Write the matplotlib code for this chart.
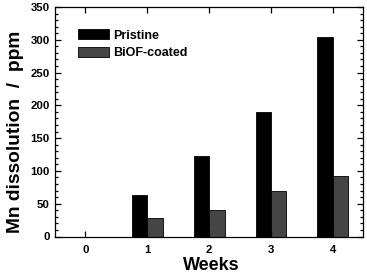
import matplotlib.pyplot as plt
import numpy as np
from matplotlib.ticker import MultipleLocator

# --- data ---
weeks = [0, 1, 2, 3, 4]
pristine = [0, 64, 123, 190, 305]
coated = [0, 28, 40, 70, 92]

plt.rcParams['font.family'] = ['Liberation Sans', 'DejaVu Sans']
plt.rcParams['font.weight'] = 'bold'

fig = plt.figure(figsize=(3.67, 2.74), dpi=100)
ax = fig.add_axes([54.5 / 367, 1 - 236.5 / 274, 308 / 367, 229.5 / 274])

x = np.array(weeks)
w = 0.25
ax.bar(x - w / 2, pristine, w, color='black', edgecolor='black', linewidth=0.6, label='Pristine')
ax.bar(x + w / 2, coated, w, color='#454545', edgecolor='black', linewidth=0.6, label='BiOF-coated')

ax.set_xlim(-0.5, 4.48)
ax.set_ylim(0, 350)
ax.set_xticks(weeks)
ax.yaxis.set_major_locator(MultipleLocator(50))
ax.yaxis.set_minor_locator(MultipleLocator(10))
ax.tick_params(which='both', direction='in', top=True, right=True, labelsize=8.2, width=0.9)
ax.tick_params(which='major', length=4)
ax.tick_params(which='minor', length=2.2)
ax.tick_params(axis='x', which='major', pad=6)
ax.tick_params(axis='x', which='minor', bottom=False, top=False)
for s in ax.spines.values():
    s.set_linewidth(0.9)

ax.set_xlabel('Weeks', fontsize=13, fontweight='bold')
ax.set_ylabel('Mn dissolution  /  ppm', fontsize=13.8, fontweight='bold')
ax.xaxis.set_label_coords(0.51, -0.09)
ax.yaxis.set_label_coords(-0.1, 0.455)

ax.legend(loc='upper left', bbox_to_anchor=(0.06, 0.925), frameon=False,
          fontsize=9, handlelength=2.5, handleheight=0.85, handletextpad=0.3,
          labelspacing=0.45, borderaxespad=0)

fig.savefig('out.png', dpi=100)
